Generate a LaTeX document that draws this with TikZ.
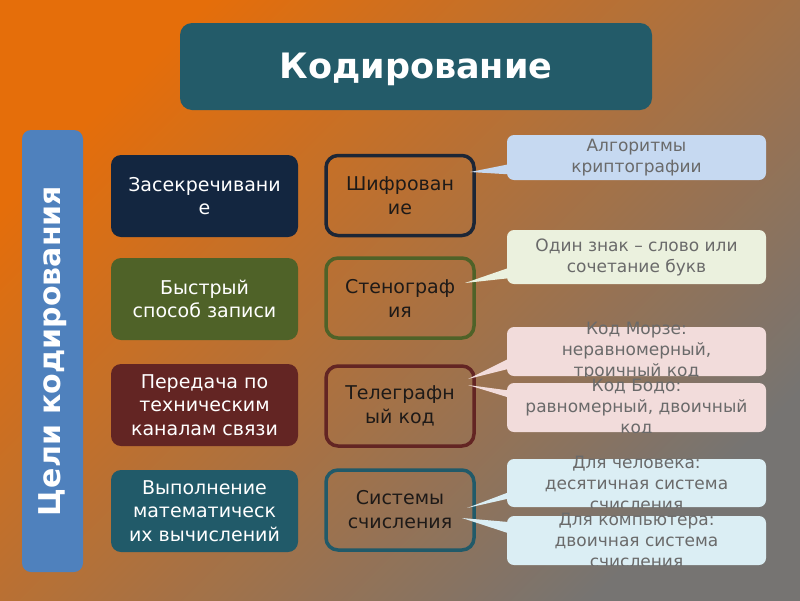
\documentclass[tikz,border=0pt]{standalone}
\usepackage{fontspec}
\setmainfont{DejaVu Sans}
\definecolor{titlebg}{HTML}{235B69}
\definecolor{barbg}{HTML}{4F81BD}
\definecolor{cnavy}{HTML}{132640}
\definecolor{cnavyline}{HTML}{1C2636}
\definecolor{colive}{HTML}{4F6228}
\definecolor{cwine}{HTML}{632523}
\definecolor{cteal}{HTML}{215A69}
\definecolor{cdark}{HTML}{1E1A18}
\definecolor{cblue}{HTML}{C6D9F1}
\definecolor{ccream}{HTML}{EBF1DE}
\definecolor{cpink}{HTML}{F2DCDB}
\definecolor{cice}{HTML}{DBEEF4}
\definecolor{cgray}{HTML}{6A6A6A}
\definecolor{bgA}{HTML}{E56E0A}
\definecolor{bgB}{HTML}{B07242}
\definecolor{bgC}{HTML}{767472}
\tikzset{
  goal/.style={rounded corners=10pt, minimum width=187pt, minimum height=82pt,
    text=white, align=center, inner sep=0pt, font=\fontsize{19}{23.5}\selectfont},
  meth/.style={rounded corners=12pt, line width=3.5pt, minimum width=148pt,
    minimum height=80pt, align=center, inner sep=0pt, text=cdark,
    font=\fontsize{19}{24}\selectfont},
  callbox/.style={rounded corners=7pt, minimum width=259pt, inner sep=0pt},
  calltext/.style={text=cgray, align=center, inner sep=0pt,
    font=\fontsize{17}{21}\selectfont}
}
\begin{document}
\begin{tikzpicture}[x=1pt,y=-1pt]
\useasboundingbox (0,0) rectangle (800,600);
\shade[top color=bgA, middle color=bgB, bottom color=bgC, shading angle=45] (0,0) rectangle (800,600);

% title
\node[fill=titlebg, rounded corners=12pt, minimum width=472pt, minimum height=87pt] (title) at (416,66.5) {};
\node[text=white, font=\fontsize{35}{40}\selectfont\bfseries] (titletext) at (416,69.5) {Кодирование};

% vertical bar
\node[fill=barbg, rounded corners=9pt, minimum width=61pt, minimum height=442pt] (bar) at (52.5,351) {};
\node[rotate=90, text=white, font=\fontsize{30}{34}\selectfont\bfseries] (bartext) at (53,351) {Цели кодирования};

% goals
\node[goal, fill=cnavy] (g1) at (204.5,196) {Засекречивани\\е};
\node[goal, fill=colive] (g2) at (204.5,299) {Быстрый\\способ записи};
\node[goal, fill=cwine] (g3) at (204.5,405) {Передача по\\техническим\\каналам связи};
\node[goal, fill=cteal] (g4) at (204.5,511) {Выполнение\\математическ\\их вычислений};

% methods
\node[meth, draw=cnavyline] (m1) at (400,195.5) {Шифрован\\ие};
\node[meth, draw=colive] (m2) at (400,298) {Стенограф\\ия};
\node[meth, draw=cwine] (m3) at (400,406) {Телеграфн\\ый код};
\node[meth, draw=cteal] (m4) at (400,510) {Системы\\счисления};

% tail tips
\coordinate (t1) at (470,172);
\coordinate (t2) at (465,283);
\coordinate (t3) at (468,379);
\coordinate (t4) at (468,385);
\coordinate (t5) at (467,508);
\coordinate (t6) at (462,518);

% callout 1
\fill[cblue] (t1) -- (520,162) -- (520,175) -- cycle;
\node[callbox, fill=cblue, minimum height=45pt] (c1) at (636.5,157.5) {};
\node[calltext] (c1t) at (c1.center) {Алгоритмы\\криптографии};

% callout 2
\fill[ccream] (t2) -- (520,264) -- (520,277) -- cycle;
\node[callbox, fill=ccream, minimum height=54pt] (c2) at (636.5,257) {};
\node[calltext] (c2t) at (c2.center) {Один знак – слово или\\сочетание букв};

% callout 3
\fill[cpink] (t3) -- (520,353) -- (520,366) -- cycle;
\node[callbox, fill=cpink, minimum height=49pt] (c3) at (636.5,351.5) {};
\begin{scope}
\clip (480,0) rectangle (c3.south east);
\node[calltext] (c3t) at (c3.center) {Код Морзе:\\неравномерный,\\троичный код};
\end{scope}

% callout 4
\fill[cpink] (t4) -- (520,392) -- (520,401) -- cycle;
\node[callbox, fill=cpink, minimum height=49pt] (c4) at (636.5,407.5) {};
\begin{scope}
\clip (480,378) rectangle (c4.south east);
\node[calltext] (c4t) at (c4.center) {Код Бодо:\\равномерный, двоичный\\код};
\end{scope}

% callout 5
\fill[cice] (t5) -- (520,488) -- (520,496) -- cycle;
\node[callbox, fill=cice, minimum height=48pt] (c5) at (636.5,483) {};
\begin{scope}
\clip (480,440) rectangle (c5.south east);
\node[calltext] (c5t) at (c5.center) {Для человека:\\десятичная система\\счисления};
\end{scope}

% callout 6
\fill[cice] (t6) -- (520,523) -- (520,537) -- cycle;
\node[callbox, fill=cice, minimum height=49pt] (c6) at (636.5,540.5) {};
\begin{scope}
\clip (480,505) rectangle (c6.south east);
\node[calltext] (c6t) at (c6.center) {Для компьютера:\\двоичная система\\счисления};
\end{scope}
\end{tikzpicture}
\end{document}
